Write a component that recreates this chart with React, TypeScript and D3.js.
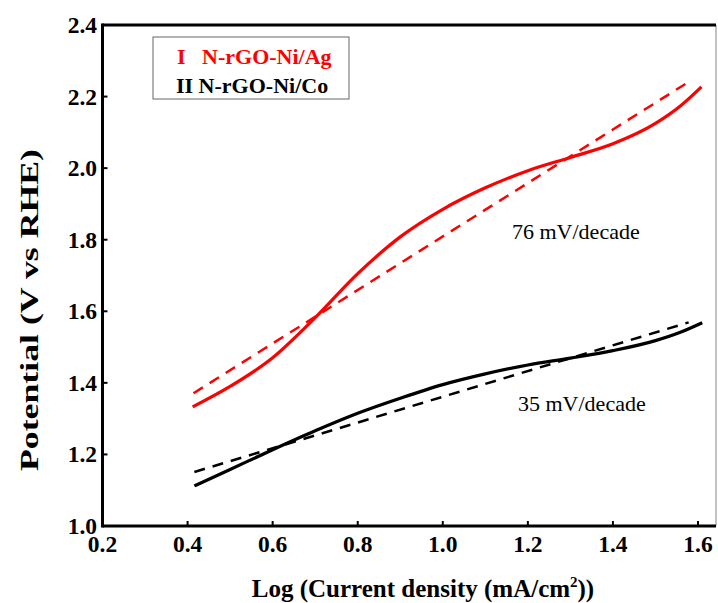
import React from "react";
import * as d3 from "d3";

const xTicks = [0.2, 0.4, 0.6, 0.8, 1.0, 1.2, 1.4, 1.6];
const yTicks = [1.0, 1.2, 1.4, 1.6, 1.8, 2.0, 2.2, 2.4];

const redSolidX = [0.412, 0.5, 0.6, 0.7, 0.8, 0.9, 1.0, 1.1, 1.2, 1.3, 1.4, 1.5, 1.56, 1.608];
const redSolidY = [1.333, 1.39, 1.47, 1.582, 1.705, 1.808, 1.885, 1.945, 1.993, 2.03, 2.068, 2.125, 2.175, 2.227];
const redFitX = [0.414, 1.578];
const redFitY = [1.371, 2.241];

const blackSolidX = [0.416, 0.5, 0.6, 0.7, 0.8, 0.9, 1.0, 1.1, 1.2, 1.3, 1.4, 1.5, 1.56, 1.61];
const blackSolidY = [1.112, 1.158, 1.213, 1.266, 1.315, 1.357, 1.395, 1.425, 1.45, 1.469, 1.49, 1.518, 1.542, 1.568];
const blackFitX = [0.416, 1.578];
const blackFitY = [1.151, 1.569];

const W = 718, H = 603;
const x0 = 102.5, x1 = 698;
const yTop = 25, yBot = 526;

export default function App() {
  const x = d3.scaleLinear().domain([0.2, 1.6]).range([x0, x1]);
  const y = d3.scaleLinear().domain([1.0, 2.4]).range([yBot, yTop]);
  const line = d3.line<[number, number]>().x(d => x(d[0])).y(d => y(d[1])).curve(d3.curveMonotoneX);
  const zip = (a: number[], b: number[]) => a.map((v, i) => [v, b[i]] as [number, number]);
  const serif = "'Liberation Serif', 'Times New Roman', serif";
  const right = 716;
  return (
    <svg width={W} height={H} style={{ position: "absolute", left: 0, top: 0, background: "#fff" }} fontFamily={serif}>
      <rect x={0} y={0} width={W} height={H} fill="#fff" />
      {/* curves */}
      <path d={line(zip(redFitX, redFitY)) || ""} fill="none" stroke="#ff0000" strokeWidth={2.5} strokeDasharray="11,8" />
      <path d={line(zip(blackFitX, blackFitY)) || ""} fill="none" stroke="#000" strokeWidth={2.5} strokeDasharray="11,8" />
      <path d={line(zip(redSolidX, redSolidY)) || ""} fill="none" stroke="#ff0000" strokeWidth={3.2} />
      <path d={line(zip(blackSolidX, blackSolidY)) || ""} fill="none" stroke="#000" strokeWidth={3.2} />
      {/* frame */}
      <line x1={right} x2={right} y1={yTop} y2={yBot} stroke="#999" strokeWidth={1.2} />
      <line x1={x0} x2={right} y1={yTop} y2={yTop} stroke="#000" strokeWidth={3} />
      <line x1={x0} x2={right} y1={yBot} y2={yBot} stroke="#000" strokeWidth={3} />
      <line x1={x0} x2={x0} y1={yTop - 1.5} y2={yBot + 1.5} stroke="#000" strokeWidth={3} />
      {/* ticks */}
      {xTicks.map(t => (
        <g key={"x" + t}>
          <line x1={x(t)} x2={x(t)} y1={yBot} y2={yBot - 5} stroke="#000" strokeWidth={2} />
          <text x={x(t)} y={552} textAnchor="middle" fontSize={23.5} fontWeight="bold" fill="#000">{t.toFixed(1)}</text>
        </g>
      ))}
      {yTicks.map(t => (
        <g key={"y" + t}>
          <line x1={x0} x2={x0 + 5} y1={y(t)} y2={y(t)} stroke="#000" strokeWidth={2} />
          <text x={97} y={y(t) + 8} textAnchor="end" fontSize={23.5} fontWeight="bold" fill="#000">{t.toFixed(1)}</text>
        </g>
      ))}
      {/* axis titles */}
      <text x={423} y={597} textAnchor="middle" fontSize={25} fontWeight="bold" fill="#000">
        Log (Current density (mA/cm<tspan dy={-10} fontSize={15}>2</tspan><tspan dy={10}>))</tspan>
      </text>
      <text transform={`translate(38,${310}) rotate(-90)`} textAnchor="middle" fontSize={25} fontWeight="bold" fill="#000"
        textLength={322} lengthAdjust="spacingAndGlyphs">
        Potential (V vs RHE)
      </text>
      {/* legend */}
      <rect x={153} y={37} width={196} height={62} fill="#fff" stroke="#666" strokeWidth={1} />
      <text x={177} y={64} fontSize={22} fontWeight="bold" fill="#ff0000" xmlSpace="preserve">I   N-rGO-Ni/Ag</text>
      <text x={176} y={93} fontSize={22} fontWeight="bold" fill="#000">II N-rGO-Ni/Co</text>
      {/* annotations */}
      <text x={512} y={239} fontSize={22} fill="#000">76 mV/decade</text>
      <text x={518} y={411} fontSize={22} fill="#000">35 mV/decade</text>
    </svg>
  );
}
